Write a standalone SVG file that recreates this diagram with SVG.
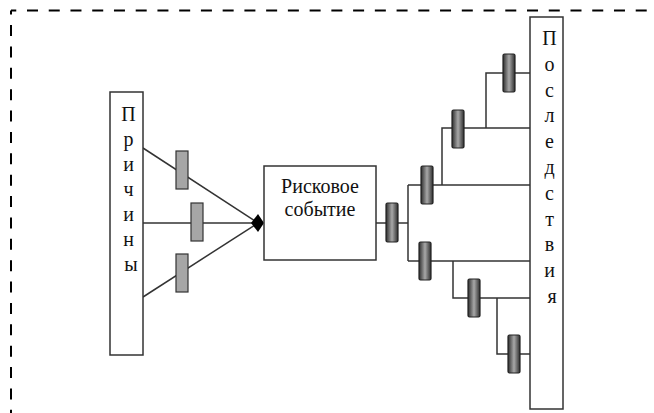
<svg xmlns="http://www.w3.org/2000/svg" width="654" height="413" viewBox="0 0 654 413">
  <style>
    .frame { fill: none; stroke: #000; stroke-width: 2; }
    .box { fill: #fff; stroke: #333; stroke-width: 1.5; }
    .wire { fill: none; stroke: #333; stroke-width: 1.5; }
    .gate { fill: #a6a6a6; stroke: #333; stroke-width: 1.2; }
    .valve { fill: url(#valveShade); stroke: #222; stroke-width: 1.2; }
    .lbl { font-family: "Liberation Serif", "DejaVu Serif", "Times New Roman", serif; font-size: 20px; fill: #111; text-anchor: middle; }
  </style>
  <defs>
    <linearGradient id="valveShade" x1="0" y1="0" x2="1" y2="0">
      <stop offset="0" stop-color="#2e2e2e"/>
      <stop offset="0.5" stop-color="#a8a8a8"/>
      <stop offset="1" stop-color="#2e2e2e"/>
    </linearGradient>
  </defs>

  <!-- dashed frame -->
  <g id="frame">
    <line class="frame" x1="11" y1="10.5" x2="654" y2="10.5" stroke-dasharray="11 10.74" stroke-dashoffset="5.74"/>
    <line class="frame" x1="11" y1="10.5" x2="11" y2="413" stroke-dasharray="11 10.38" stroke-dashoffset="6.88"/>
  </g>

  <!-- connectors -->
  <g id="connectors">
    <path class="wire" d="M143,148 L258,223"/>
    <path class="wire" d="M143,223 H258"/>
    <path class="wire" d="M143,297 L258,223"/>
    <polygon points="251,223 258,214 264,223 258,232" fill="#000"/>
    <path class="wire" d="M376,223 H408"/>
    <path class="wire" d="M408,185 V261"/>
    <path class="wire" d="M408,185 H530"/>
    <path class="wire" d="M442,185 V128 H530"/>
    <path class="wire" d="M486,128 V73 H530"/>
    <path class="wire" d="M408,261 H530"/>
    <path class="wire" d="M453,261 V298 H530"/>
    <path class="wire" d="M497,298 V354 H530"/>
  </g>

  <!-- cause barriers -->
  <g id="cause-barriers">
    <rect class="gate" x="176" y="151" width="12" height="38"/>
    <rect class="gate" x="191" y="203" width="12" height="38"/>
    <rect class="gate" x="176" y="254" width="12" height="38"/>
  </g>

  <!-- consequence barriers -->
  <g id="consequence-barriers">
    <rect class="valve" x="386" y="203" width="12" height="39" rx="1.5"/>
    <rect class="valve" x="421" y="166" width="12" height="38" rx="1.5"/>
    <rect class="valve" x="452" y="110" width="12" height="38" rx="1.5"/>
    <rect class="valve" x="503" y="54" width="12" height="38" rx="1.5"/>
    <rect class="valve" x="419" y="242" width="12" height="38" rx="1.5"/>
    <rect class="valve" x="468" y="279" width="12" height="38" rx="1.5"/>
    <rect class="valve" x="508" y="335" width="12" height="38" rx="1.5"/>
  </g>

  <g id="causes">
    <rect class="box" x="110" y="92" width="33" height="263"/>
    <text class="lbl" x="131">
      <tspan x="131" y="121">П</tspan>
      <tspan x="131" y="146">р</tspan>
      <tspan x="131" y="171">и</tspan>
      <tspan x="131" y="196">ч</tspan>
      <tspan x="131" y="221">и</tspan>
      <tspan x="131" y="246">н</tspan>
      <tspan x="131" y="271">ы</tspan>
    </text>
  </g>

  <g id="risk-event">
    <rect class="box" x="264" y="166" width="112" height="94"/>
    <text class="lbl" x="320" y="193">Рисковое</text>
    <text class="lbl" x="320" y="216">событие</text>
  </g>

  <g id="consequences">
    <rect class="box" x="530" y="17" width="33" height="392"/>
    <text class="lbl" x="552">
      <tspan x="552" y="45">П</tspan>
      <tspan x="552" y="71">о</tspan>
      <tspan x="552" y="97">с</tspan>
      <tspan x="552" y="122">л</tspan>
      <tspan x="552" y="148">е</tspan>
      <tspan x="552" y="174">д</tspan>
      <tspan x="552" y="200">с</tspan>
      <tspan x="552" y="226">т</tspan>
      <tspan x="552" y="251">в</tspan>
      <tspan x="552" y="277">и</tspan>
      <tspan x="552" y="303">я</tspan>
    </text>
  </g>
</svg>
